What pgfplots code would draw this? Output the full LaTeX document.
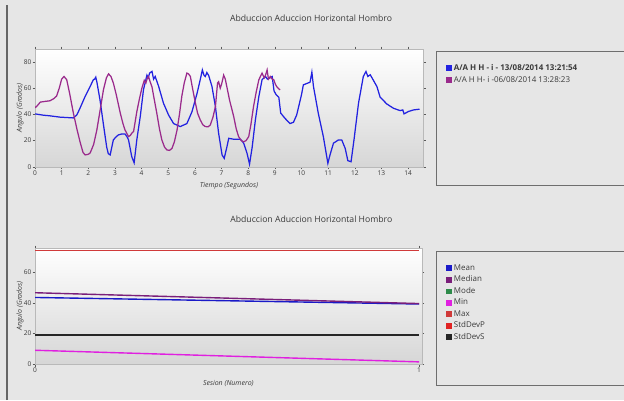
\documentclass[border=0pt]{standalone}
\usepackage{pgfplots}
\pgfplotsset{compat=1.18}
\usepackage{fontspec}
\setmainfont{Open Sans}
\definecolor{bgc}{HTML}{E6E6E6}
\definecolor{frm}{HTML}{6E6E6E}
\definecolor{txt}{HTML}{3A3A3A}
\definecolor{sblue}{HTML}{2222E0}
\definecolor{spurp}{HTML}{9A2A8C}
\definecolor{mmean}{HTML}{1A1AC8}
\definecolor{mmed}{HTML}{7A1E7A}
\definecolor{mmode}{HTML}{2E8B4A}
\definecolor{mmin}{HTML}{E020E0}
\definecolor{mmax}{HTML}{D03A3A}
\definecolor{mstdp}{HTML}{E02424}
\begin{document}
\begin{tikzpicture}[x=1bp,y=1bp]
\fill[bgc] (0,0) rectangle (624,400);
\useasboundingbox (0,0) rectangle (624,400);
\draw[gray!80!black, line width=1.5bp] (7,0) -- (7,395);
% legend frames
\draw[frm, line width=0.9bp] (436.7,348.3) rectangle (630,215);
\draw[frm, line width=0.9bp] (436.7,149) rectangle (630,15);
\pgfplotsset{
  mystyle/.style={
    scale only axis,
    axis background/.style={shade, top color=white, middle color=white!97!black, bottom color=black!16},
    axis line style={gray!55},
    tick align=outside,
    major tick length=2.5bp,
    tick style={gray!70!black, line width=0.4bp},
    ticklabel style={font=\fontsize{6.6}{7}\selectfont, text=txt, inner sep=1bp},
    /pgf/number format/assume math mode=true,
    title style={font=\fontsize{8.7}{10}\selectfont, text=txt, anchor=center},
    every axis x label/.style={at={(axis description cs:0.5,0)}, anchor=center, font=\fontsize{7}{8}\selectfont\itshape, text=txt},
    every axis y label/.style={anchor=center, rotate=90, font=\fontsize{7}{8}\selectfont\itshape, text=txt},
    legend style={draw=none, fill=none, inner sep=0pt, outer sep=0pt, anchor=north west,
      nodes={inner sep=0pt, text height=5.8bp, text depth=1.5bp, font=\fontsize{8}{9}\selectfont, text=txt}},
    legend cell align=left,
    legend image code/.code={\fill[##1] (0bp,-2.4bp) rectangle (4.8bp,2.4bp);},
    /tikz/every odd column/.append style={column sep=1.8bp},
  }
}
% ---------------- top axis
\begin{axis}[mystyle,
  at={(35bp,233.3bp)}, anchor=south west,
  width=388bp, height=117.7bp,
  xmin=0, xmax=14.56, ymin=0, ymax=90,
  xtick={0,1,...,14}, ytick={0,20,40,60,80},
  title={Abduccion Aduccion Horizontal Hombro},
  title style={at={(axis description cs:0.5,1)}, xshift=82bp, yshift=25bp},
  xlabel={Tiempo (Segundos)}, x label style={yshift=-19.3bp},
  ylabel={Angulo (Grados)}, y label style={at={(axis description cs:-0.0387,0.5)}},
  legend style={at={(axis description cs:1.0593,0.866)}, row sep=4.4bp},
]
\addplot[sblue, line width=1.25bp] coordinates {
(0.0,40.4)(0.31,39.4)(0.56,38.9)(0.94,37.9)(1.44,37.3)(1.57,39.6)(1.69,44.8)(1.88,53.7)
(2.07,61.4)(2.19,66.5)(2.24,67)(2.28,68.5)(2.32,65)(2.44,51)(2.57,32)(2.69,15)(2.75,10)
(2.82,9)(2.94,20.5)(3.05,23)(3.13,24.3)(3.25,25)(3.38,25)(3.45,23)(3.51,20.5)(3.63,7.7)
(3.72,3)(3.82,20.5)(3.95,38.4)(4.07,58.8)(4.2,70)(4.25,68)(4.3,71.6)(4.39,72.9)(4.45,67)
(4.51,69)(4.64,61.4)(4.82,48.6)(5.01,39.6)(5.2,33)(5.45,30.7)(5.7,33)(5.89,42)(6.08,56)
(6.2,66.5)(6.28,74)(6.34,70)(6.39,69)(6.45,72)(6.52,69.6)(6.64,61.4)(6.77,46)(6.89,25.6)
(7.02,9)(7.1,6.4)(7.2,15)(7.27,21.7)(7.46,21)(7.71,21)(7.83,18)(7.96,10)(8.05,2)(8.15,15)
(8.27,35.8)(8.4,53.7)(8.52,66.5)(8.65,69)(8.72,67)(8.81,67.8)(8.9,69)(8.97,58)(9.05,55)
(9.15,53)(9.22,41)(9.38,37)(9.57,33)(9.7,34)(9.82,39.6)(10.0,55)(10.07,62.6)(10.32,64.6)
(10.39,72.3)(10.45,61.3)(10.63,40.9)(10.82,23)(10.99,2.6)(11.07,9)(11.2,18)(11.39,20.5)
(11.51,20.5)(11.64,14)(11.74,4.6)(11.86,3.8)(11.97,20.5)(12.14,48.6)(12.32,69)(12.42,72.8)
(12.49,69)(12.58,70.3)(12.7,66)(12.83,61.3)(12.95,53.2)(13.2,48)(13.45,44.7)(13.7,42.9)
(13.8,43.4)(13.85,40.4)(14.01,42.2)(14.2,43.4)(14.43,44)
};
\addlegendentry{\bfseries A/A H H - i - 13/08/2014 13:21:54}
\addplot[spurp, line width=1.25bp] coordinates {
(0.0,45)(0.1,47)(0.2,49.4)(0.4,50)(0.56,50.4)(0.7,52)(0.81,54)(0.91,60)(1.0,67)(1.09,69)
(1.19,66.5)(1.3,56)(1.44,41)(1.57,29)(1.69,19)(1.8,11)(1.88,9)(2.0,9.5)(2.07,10.5)(2.2,17)
(2.32,28)(2.45,44)(2.57,59)(2.68,68)(2.76,71)(2.85,69)(2.94,64)(3.05,55)(3.2,41)(3.3,33)
(3.38,28)(3.51,23)(3.58,24)(3.63,25.6)(3.7,27)(3.82,42)(3.92,52)(4.01,60)(4.1,66)(4.16,64)
(4.22,68)(4.26,69)(4.32,65)(4.39,61)(4.47,52)(4.57,41)(4.67,29)(4.76,20.5)(4.86,15)
(4.95,12.8)(5.05,12.5)(5.14,14)(5.23,19)(5.33,28)(5.42,40)(5.51,54)(5.6,64)(5.7,71.6)
(5.76,71)(5.83,69)(5.92,59)(6.02,48.6)(6.1,41)(6.2,35.8)(6.3,32)(6.39,30.7)(6.5,30.5)
(6.58,32)(6.68,38)(6.77,46)(6.85,64)(6.89,65)(6.95,60)(7.0,63)(7.08,70)(7.14,67)(7.2,61)
(7.3,51)(7.46,38)(7.55,29)(7.64,23)(7.74,20)(7.83,19)(7.92,20)(8.02,23)(8.1,32)(8.2,46)
(8.3,57)(8.4,66.5)(8.52,71.6)(8.6,68)(8.65,70)(8.71,74)(8.76,67)(8.83,69)(8.9,67)
(8.96,66.5)(9.02,63)(9.08,61)(9.15,59.5)(9.2,58.8)
};
\addlegendentry{A/A H H- i -06/08/2014 13:28:23}
\end{axis}
% ---------------- bottom axis
\begin{axis}[mystyle,
  at={(35bp,36bp)}, anchor=south west,
  width=386.7bp, height=116bp,
  xmin=0, xmax=1.007, ymin=0, ymax=76,
  xtick={0,1}, ytick={0,20,40,60},
  title={Abduccion Aduccion Horizontal Hombro},
  title style={at={(axis description cs:0.5,1)}, xshift=83bp, yshift=23bp},
  xlabel={Sesion (Numero)}, x label style={yshift=-19bp},
  ylabel={Angulo (Grados)}, y label style={at={(axis description cs:-0.0388,0.5)}},
  legend style={at={(axis description cs:1.0628,0.857)}, row sep=4.2bp},
]
\addplot[mmean, line width=1.4bp] coordinates {(0,43.6)(1,39.3)};
\addlegendentry{Mean}
\addplot[mmed, line width=1.4bp] coordinates {(0,46.7)(1,39.6)};
\addlegendentry{Median}
\addlegendimage{mmode}
\addlegendentry{Mode}
\addplot[mmin, line width=1.4bp] coordinates {(0,9.0)(1,1.4)};
\addlegendentry{Min}
\addplot[mmax, line width=1.2bp] coordinates {(0,74.6)(1,74.6)};
\addlegendentry{Max}
\addplot[mstdp, line width=1.2bp] coordinates {(0,19)(1,19)};
\addlegendentry{StdDevP}
\addplot[black!85, line width=1.2bp] coordinates {(0,19)(1,19)};
\addlegendentry{StdDevS}
\end{axis}
\end{tikzpicture}
\end{document}
